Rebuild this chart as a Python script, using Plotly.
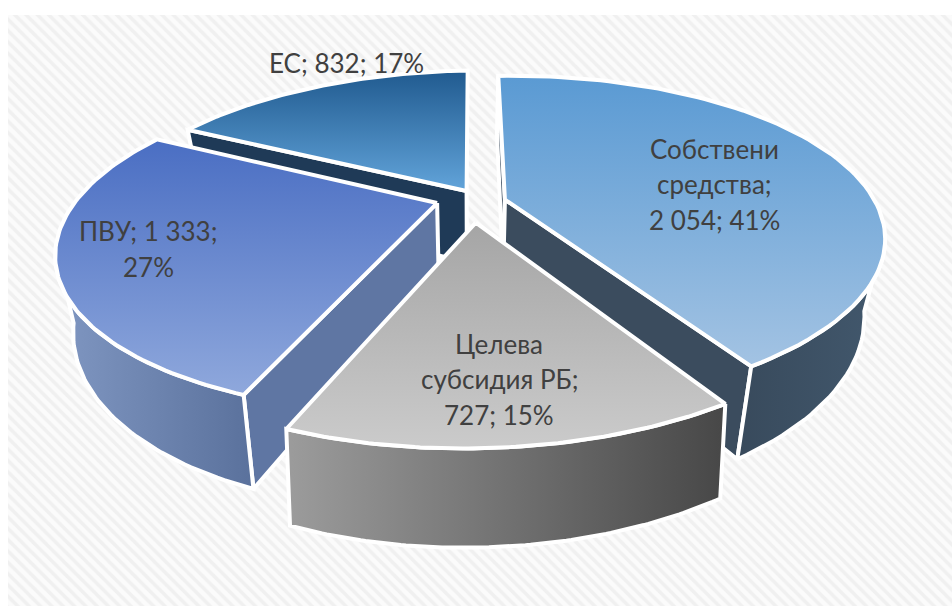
import numpy as np
import plotly.graph_objects as go

categories = ["Собствени средства", "Целева субсидия РБ", "ПВУ", "ЕС"]
values = [2054, 727, 1333, 832]
value_labels = ["2 054", "727", "1 333", "832"]
percents = [41, 15, 27, 17]
label_texts = [
    "Собствени<br>средства;<br>{v}; {p}%",
    "Целева<br>субсидия РБ;<br>{v}; {p}%",
    "ПВУ; {v};<br>{p}%",
    "ЕС; {v}; {p}%",
]

W, H = 952, 606
CX, CY, R, RY, K, TILT = 472, 194, 362, 152, 0.25, 6
explode = [(0.09, -0.04), (0.01, -0.18), (-0.095, -0.055), (-0.015, 0.02)]
wall_shrink = [0.95, 0.98, 0.957, 0.955]
wall_depth = [72, 70, 71, 72]
top_scales = [["#a3c3e3", "#5a9ad3"], ["#cbcbcb", "#a5a5a5"], ["#8fa8dc", "#4a6ec3"], ["#62a4da", "#205a8f"]]
wall_scales = [["#384a5c", "#42586d"], ["#9c9c9c", "#474747"], ["#8097c2", "#5a719c"], ["#1f3a57", "#1f3a57"]]
radial_colors = ["#3b4c5e", "#777777", "#5f76a3", "#1f3a57"]
radial_visible = [(0, -1), (), (0,), (0,)]
label_pos = [(346, 63), (499, 379), (148, 249), (714, 184)]
label_pos = [label_pos[3], label_pos[1], label_pos[2], label_pos[0]]
LINE_STEP = 35.5


def proj(u, v):
    s = 1 / (1 + K * v)
    return CX + R * u * s, CY - RY * v * s - TILT * u * s, s


def poly(xs, ys, scale=None, orient="horizontal", color=None):
    kw = dict(x=list(xs), y=list(ys), mode="lines", fill="toself", hoverinfo="skip",
              line=dict(color="white", width=4), showlegend=False)
    if scale:
        kw["fillgradient"] = dict(type=orient, colorscale=[[0, scale[0]], [1, scale[1]]])
    else:
        kw["fillcolor"] = color
    return go.Scatter(**kw)


fig = go.Figure()
fig.add_trace(go.Scatter(x=[8, W, W, 8, 8], y=[15, 15, H, H, 15], mode="lines", fill="toself",
                         line=dict(width=0), fillcolor="#fbfbfb", hoverinfo="skip", showlegend=False,
                         fillpattern=dict(shape="\\", size=8, solidity=0.45, fgcolor="#e6e6e6", bgcolor="#fbfbfb")))

total = sum(values)
edges = np.cumsum([0] + values) / total * 2 * np.pi
order = [3, 0, 2, 1]
for i in order:
    a0, a1 = edges[i], edges[i + 1]
    eu, ev = explode[i]
    t = np.linspace(a0, a1, 90)
    X, Y, S = proj(eu + np.sin(t), ev + np.cos(t))
    ax, ay, asc = proj(eu, ev)
    bx, by = CX + (X - CX) * wall_shrink[i], Y + wall_depth[i] * S
    abx, aby = CX + (ax - CX) * wall_shrink[i], ay + wall_depth[i] * asc
    for j in radial_visible[i]:
        fig.add_trace(poly([ax, X[j], bx[j], abx, ax], [ay, Y[j], by[j], aby, ay], color=radial_colors[i]))
    vis = np.cos(t) < -K * 0.9
    if vis.any():
        xs = np.r_[X[vis], bx[vis][::-1], X[vis][0]]
        ys = np.r_[Y[vis], by[vis][::-1], Y[vis][0]]
        fig.add_trace(poly(xs, ys, scale=wall_scales[i]))
    fig.add_trace(poly(np.r_[ax, X, ax], np.r_[ay, Y, ay], scale=top_scales[i], orient="vertical"))

annotations = []
for i in range(4):
    lines = label_texts[i].format(v=value_labels[i], p=percents[i]).split("<br>")
    for n, line in enumerate(lines):
        annotations.append(dict(x=label_pos[i][0], y=label_pos[i][1] + (n - (len(lines) - 1) / 2) * LINE_STEP,
                                xref="x", yref="y", showarrow=False, align="center", text=line,
                                font=dict(family="Lato, Carlito, 'Open Sans', sans-serif", size=26, color="#404040")))

fig.update_layout(width=W, height=H, margin=dict(l=0, r=0, t=0, b=0), paper_bgcolor="white", plot_bgcolor="white",
                  xaxis=dict(range=[0, W], visible=False, fixedrange=True),
                  yaxis=dict(range=[H, 0], visible=False, fixedrange=True),
                  annotations=annotations, showlegend=False)
fig.write_html("out.html", config={"displayModeBar": False},
               post_script="document.body.style.margin='0';document.body.style.overflow='hidden';")
